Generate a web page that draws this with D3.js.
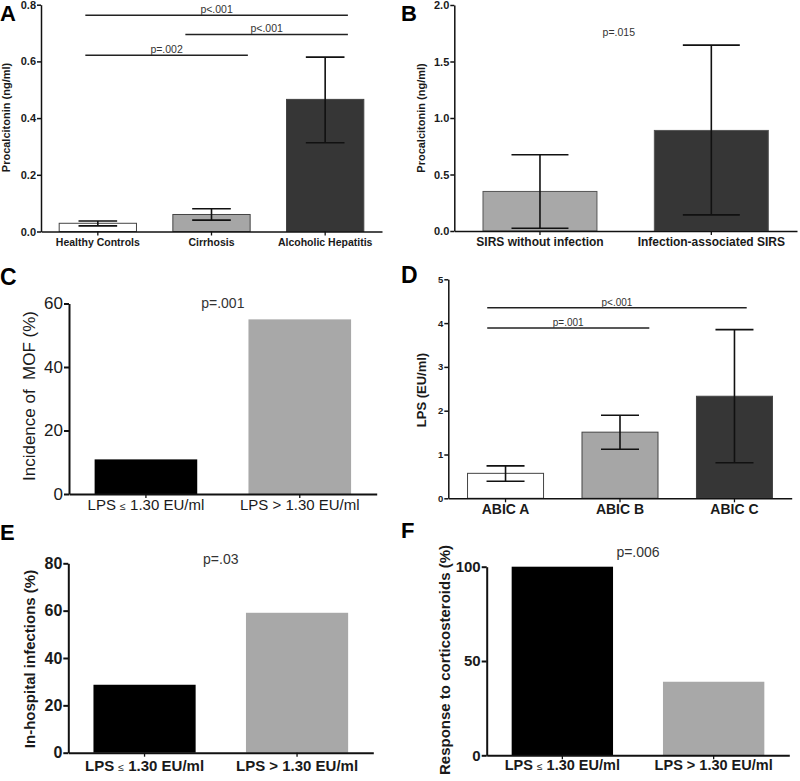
<!DOCTYPE html>
<html><head><meta charset="utf-8">
<script src="https://cdn.jsdelivr.net/npm/d3@7"></script>
<style>
html,body{margin:0;padding:0;background:#fff;}
svg{display:block;font-family:"Liberation Sans",Arial,Helvetica,sans-serif;}
</style></head>
<body>
<script>
// ---------- DATA ----------
// Panel A
const catsA = ["Healthy Controls", "Cirrhosis", "Alcoholic Hepatitis"];
const meanA = [0.029, 0.060, 0.466];
const lowA  = [0.020, 0.040, 0.313];
const highA = [0.037, 0.080, 0.615];
const ticksA = [0, 0.2, 0.4, 0.6, 0.8];
const tickLabelsA = ["0.0", "0.2", "0.4", "0.6", "0.8"];
const sigA = [
  {from: -0.11, to: 2.2, v: 0.763, label: "p<.001"},
  {from: 0.77, to: 2.2, v: 0.695, label: "p<.001"},
  {from: -0.11, to: 1.32, v: 0.622, label: "p=.002"}
];
// Panel B
const catsB = ["SIRS without infection", "Infection-associated SIRS"];
const meanB = [0.35, 0.89];
const lowB  = [0.025, 0.143];
const highB = [0.675, 1.645];
const ticksB = [0, 0.5, 1.0, 1.5, 2.0];
const tickLabelsB = ["0.0", "0.5", "1.0", "1.5", "2.0"];
const pB = {pos: 0.46, v: 1.73, label: "p=.015"};
// Panel C
const catsC = ["LPS ≤ 1.30 EU/ml", "LPS > 1.30 EU/ml"];
const valC = [10.9, 55.0];
const ticksC = [0, 20, 40, 60];
const pC = {pos: 0.5, v: 58.7, label: "p=.001"};
// Panel D
const catsD = ["ABIC A", "ABIC B", "ABIC C"];
const meanD = [0.57, 1.51, 2.33];
const lowD  = [0.39, 1.12, 0.81];
const highD = [0.74, 1.895, 3.85];
const ticksD = [0, 1, 2, 3, 4, 5];
const sigD = [
  {from: -0.16, to: 2.107, v: 4.35, label: "p<.001"},
  {from: -0.16, to: 1.256, v: 3.89, label: "p=.001"}
];
// Panel E
const catsE = ["LPS ≤ 1.30 EU/ml", "LPS > 1.30 EU/ml"];
const valE = [28.7, 59.1];
const ticksE = [0, 20, 40, 60, 80];
const pE = {pos: 0.5, v: 79.7, label: "p=.03"};
// Panel F
const catsF = ["LPS ≤ 1.30 EU/ml", "LPS > 1.30 EU/ml"];
const valF = [100, 39.0];
const ticksF = [0, 50, 100];
const pF = {pos: 0.5, v: 105.3, label: "p=.006"};

// ---------- DRAW ----------
const svg = d3.select("body").append("svg").attr("width", 800).attr("height", 781);

function panel(o) {
  const g = svg.append("g");
  const x = d3.scaleBand().domain(o.cats).range([o.x0, o.x1])
    .paddingInner(o.pad).paddingOuter(o.pad / 2);
  const y = d3.scaleLinear().domain([0, o.yMax]).range([o.y0, o.yTop]);
  const bw = x.bandwidth();
  const cx = i => x(o.cats[0]) + bw / 2 + i * x.step();

  // bars
  g.selectAll("rect.bar").data(o.values).join("rect")
    .attr("class", "bar")
    .attr("x", (d, i) => x(o.cats[i]))
    .attr("y", d => y(d))
    .attr("width", bw)
    .attr("height", d => y(0) - y(d))
    .attr("fill", (d, i) => o.colors[i])
    .attr("stroke", o.barStroke || "none")
    .attr("stroke-width", o.barStroke ? 1 : 0);

  // error bars
  if (o.lows) {
    const cap = bw * 0.5;
    o.values.forEach((d, i) => {
      const c = cx(i);
      const eg = g.append("g").attr("stroke", "#111").attr("stroke-width", 1.6);
      eg.append("line").attr("x1", c).attr("x2", c).attr("y1", y(o.lows[i])).attr("y2", y(o.highs[i]));
      eg.append("line").attr("x1", c - cap / 2).attr("x2", c + cap / 2).attr("y1", y(o.lows[i])).attr("y2", y(o.lows[i]));
      eg.append("line").attr("x1", c - cap / 2).attr("x2", c + cap / 2).attr("y1", y(o.highs[i])).attr("y2", y(o.highs[i]));
    });
  }

  // y axis
  const ya = d3.axisLeft(y).tickValues(o.ticks).tickSize(o.tick).tickSizeOuter(0).tickPadding(1)
    .tickFormat((d, i) => o.tickLabels ? o.tickLabels[i] : d);
  const yg = g.append("g").attr("transform", `translate(${o.x0},0)`).call(ya);
  yg.attr("font-family", null);
  yg.select(".domain").attr("stroke", "#111").attr("stroke-width", o.aw);
  yg.selectAll(".tick line").attr("stroke", "#111").attr("stroke-width", o.aw);
  yg.selectAll(".tick text").attr("font-size", o.tickFont).attr("font-weight", o.tickWeight)
    .attr("fill", "#1a1a1a");

  // x axis
  const xa = d3.axisBottom(x).tickSize(4).tickSizeOuter(0).tickFormat("");
  const xg = g.append("g").attr("transform", `translate(0,${o.y0})`).call(xa);
  xg.attr("font-family", null);
  xg.select(".domain").attr("stroke", "#111").attr("stroke-width", o.aw);
  xg.selectAll(".tick line").attr("stroke", "#111").attr("stroke-width", 1.3);

  // category labels
  o.cats.forEach((c, i) => {
    const t = g.append("text").attr("x", cx(i)).attr("y", o.catY)
      .attr("text-anchor", "middle").attr("font-size", o.catFont)
      .attr("font-weight", o.catWeight).attr("fill", "#1a1a1a");
    if (c.includes("≤")) {
      const parts = c.split("≤");
      t.append("tspan").text(parts[0]);
      t.append("tspan").attr("font-size", o.catFont * 0.7).attr("font-weight", "normal").text("≤");
      t.append("tspan").text(parts[1]);
    } else t.text(c);
  });

  // y title
  g.append("text")
    .attr("transform", `translate(${o.titleX},${o.titleY}) rotate(-90)`)
    .attr("text-anchor", "middle").attr("font-size", o.titleFont)
    .attr("font-weight", o.titleWeight).attr("fill", "#1a1a1a")
    .style("white-space", "pre").text(o.title);

  // significance lines
  (o.sig || []).forEach(s => {
    const xa1 = cx(s.from), xa2 = cx(s.to), yy = y(s.v);
    g.append("line").attr("x1", xa1).attr("x2", xa2).attr("y1", yy).attr("y2", yy)
      .attr("stroke", "#222").attr("stroke-width", 1.5);
    g.append("text").attr("x", (xa1 + xa2) / 2).attr("y", yy - 2).attr("text-anchor", "middle")
      .attr("font-size", o.pFont).attr("fill", "#333").text(s.label);
  });
  if (o.p) {
    g.append("text").attr("x", cx(o.p.pos)).attr("y", y(o.p.v)).attr("text-anchor", "middle")
      .attr("font-size", o.pFont).attr("fill", "#333").text(o.p.label);
  }

  // panel letter
  svg.append("text").attr("x", o.letterX).attr("y", o.letterY)
    .attr("font-size", o.letterFont).attr("font-weight", "bold").attr("fill", "#000").text(o.letter);
}

panel({cats: catsA, values: meanA, lows: lowA, highs: highA, ticks: ticksA, tickLabels: tickLabelsA,
  yMax: 0.8, x0: 41, x1: 382, y0: 231.5, yTop: 4.7, pad: 0.32,
  colors: ["#ffffff", "#a6a6a6", "#363636"], barStroke: "#444",
  aw: 1.5, tick: 4, tickFont: 11, tickWeight: "bold", catFont: 10.5, catWeight: "bold", catY: 246,
  title: "Procalcitonin (ng/ml)", titleX: 9.5, titleY: 117.5, titleFont: 11, titleWeight: "bold",
  sig: sigA, pFont: 10.5, letter: "A", letterX: 0, letterY: 21, letterFont: 22});

panel({cats: catsB, values: meanB, lows: lowB, highs: highB, ticks: ticksB, tickLabels: tickLabelsB,
  yMax: 2.0, x0: 454.3, x1: 797, y0: 231, yTop: 5, pad: 0.335,
  colors: ["#a8a8a8", "#363636"], barStroke: "#555",
  aw: 1.5, tick: 4, tickFont: 11, tickWeight: "bold", catFont: 12, catWeight: "bold", catY: 246,
  title: "Procalcitonin (ng/ml)", titleX: 424.5, titleY: 118, titleFont: 11, titleWeight: "bold",
  p: pB, pFont: 10.5, letter: "B", letterX: 401, letterY: 21, letterFont: 22});

panel({cats: catsC, values: valC, ticks: ticksC,
  yMax: 60, x0: 69, x1: 376.7, y0: 494, yTop: 303.5, pad: 0.333,
  colors: ["#000000", "#a8a8a8"],
  aw: 2, tick: 5, tickFont: 17, tickWeight: "normal", catFont: 15, catWeight: "normal", catY: 510,
  title: "Incidence of  MOF (%)", titleX: 35, titleY: 396, titleFont: 17, titleWeight: "normal",
  p: pC, pFont: 14, letter: "C", letterX: 0, letterY: 285, letterFont: 23});

panel({cats: catsD, values: meanD, lows: lowD, highs: highD, ticks: ticksD,
  yMax: 5, x0: 448.3, x1: 791.7, y0: 498.3, yTop: 279.3, pad: 0.336,
  colors: ["#ffffff", "#a6a6a6", "#363636"], barStroke: "#444",
  aw: 1.5, tick: 4, tickFont: 9.5, tickWeight: "bold", catFont: 14, catWeight: "bold", catY: 514,
  title: "LPS (EU/ml)", titleX: 426, titleY: 390, titleFont: 13, titleWeight: "bold",
  sig: sigD, pFont: 10, letter: "D", letterX: 401, letterY: 283, letterFont: 23});

panel({cats: catsE, values: valE, ticks: ticksE,
  yMax: 80, x0: 68.3, x1: 373.3, y0: 752.7, yTop: 563.3, pad: 0.33,
  colors: ["#000000", "#a8a8a8"],
  aw: 2, tick: 5, tickFont: 16, tickWeight: "bold", catFont: 15, catWeight: "bold", catY: 770.5,
  title: "In-hospital infections (%)", titleX: 34.5, titleY: 659, titleFont: 15, titleWeight: "bold",
  p: pE, pFont: 14, letter: "E", letterX: 0, letterY: 540, letterFont: 22});

panel({cats: catsF, values: valF, ticks: ticksF,
  yMax: 100, x0: 486.7, x1: 789.3, y0: 755.3, yTop: 566.7, pad: 0.33,
  colors: ["#000000", "#a8a8a8"],
  aw: 2, tick: 5, tickFont: 15, tickWeight: "bold", catFont: 14.5, catWeight: "bold", catY: 770,
  title: "Response to corticosteroids (%)", titleX: 450, titleY: 660, titleFont: 15, titleWeight: "bold",
  p: pF, pFont: 14, letter: "F", letterX: 401, letterY: 538, letterFont: 22});
</script>
</body></html>
